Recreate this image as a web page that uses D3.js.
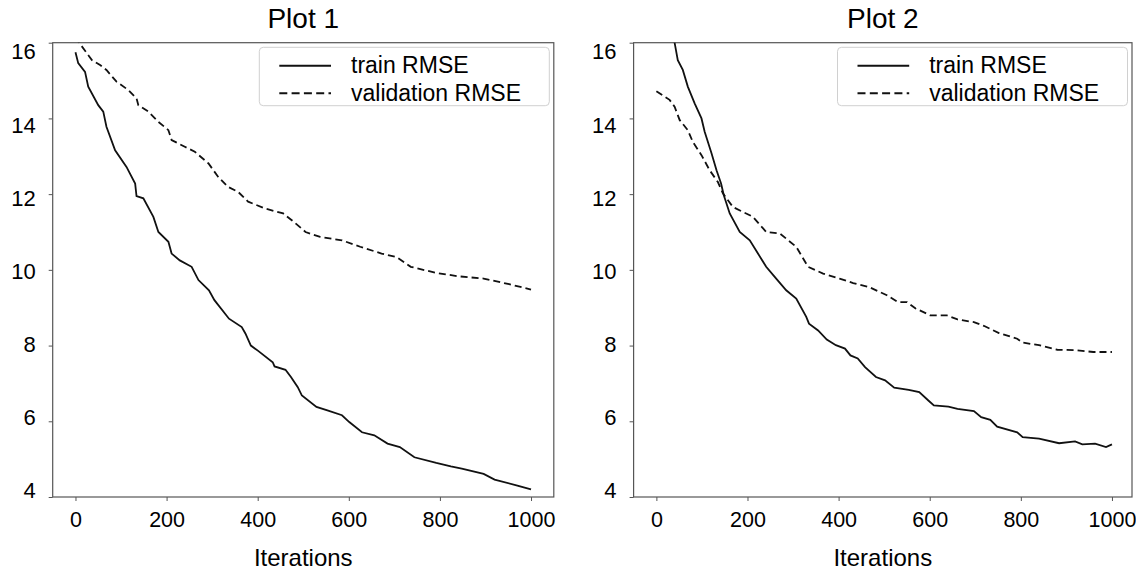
<!DOCTYPE html>
<html>
<head>
<meta charset="utf-8">
<script src="https://cdn.jsdelivr.net/npm/d3@7"></script>
<style>
  body { margin: 0; background: white; }
  svg { display: block; font-family: "Liberation Sans", Arial, sans-serif; }
</style>
</head>
<body>
<div id="chart"></div>
<script>
// values: [iteration, rmse]
var plot1_train = [[0,15.75],[6,15.46],[21,15.23],[28,14.84],[50,14.35],[61,14.18],[68,13.78],[87,13.16],
  [112,12.72],[131,12.28],[134,11.95],[149,11.89],[171,11.40],[182,11.00],[204,10.74],[211,10.43],
  [229,10.25],[255,10.08],[270,9.73],[293,9.46],[305,9.20],[337,8.71],[365,8.49],[373,8.32],[385,8.00],
  [401,7.86],[433,7.56],[437,7.45],[461,7.36],[473,7.17],[488,6.90],[497,6.68],[529,6.38],[553,6.29],
  [585,6.16],[601,5.98],[629,5.71],[656,5.63],[685,5.41],[712,5.32],[744,5.05],[792,4.90],[824,4.81],
  [848,4.75],[896,4.61],[920,4.46],[968,4.31],[1000,4.20]]

var plot1_valid = [[0,16.15],[10,15.97],[36,15.54],[54,15.41],[68,15.28],[90,14.97],[116,14.75],[134,14.53],
  [138,14.35],[160,14.18],[182,13.91],[204,13.69],[211,13.43],[240,13.25],[262,13.12],[292,12.81],
  [313,12.46],[335,12.19],[357,12.06],[379,11.80],[416,11.62],[456,11.49],[482,11.24],[505,11.00],
  [537,10.87],[585,10.78],[625,10.61],[672,10.43],[705,10.34],[736,10.08],[792,9.92],[840,9.83],
  [896,9.77],[952,9.62],[1000,9.48]]

var plot2_train = [[0,17.6],[20,16.8],[40,16.0],[47,15.54],[58,15.28],[69,14.84],[84,14.40],[99,14.00],
  [106,13.65],[121,13.08],[132,12.63],[142,12.28],[148,11.97],[161,11.49],[183,11.00],[205,10.78],
  [223,10.43],[241,10.08],[263,9.77],[285,9.46],[307,9.24],[329,8.76],[335,8.58],[355,8.40],[374,8.16],
  [394,8.01],[414,7.92],[426,7.74],[442,7.66],[458,7.43],[482,7.17],[502,7.08],[522,6.89],[554,6.83],
  [577,6.77],[597,6.55],[609,6.42],[641,6.39],[661,6.33],[697,6.27],[713,6.11],[733,6.04],[748,5.86],
  [792,5.71],[804,5.58],[840,5.54],[884,5.42],[919,5.47],[935,5.39],[963,5.41],[987,5.32],[1000,5.39]]

var plot2_valid = [[0,14.72],[29,14.49],[40,14.31],[51,13.96],[69,13.69],[80,13.38],[99,13.03],[117,12.63],
  [135,12.32],[146,12.02],[168,11.66],[197,11.49],[212,11.40],[241,11.00],[271,10.96],[307,10.61],
  [333,10.08],[366,9.90],[402,9.77],[432,9.65],[466,9.55],[506,9.33],[530,9.15],[550,9.15],[569,8.98],
  [601,8.80],[637,8.80],[661,8.69],[697,8.62],[721,8.51],[752,8.33],[792,8.18],[804,8.08],[840,8.01],
  [880,7.89],[919,7.88],[959,7.83],[1000,7.83]]

var titles = ["Plot 1", "Plot 2"]
var series_names = ["train RMSE", "validation RMSE"]
var x_ticks = [0, 200, 400, 600, 800, 1000]
var y_ticks = [4, 6, 8, 10, 12, 14, 16]
var x_label = "Iterations"

var WIDTH = 1136, HEIGHT = 572
var PANELS = [{left: 52.7, right: 553.8, xmax: 1050}, {left: 633.6, right: 1132, xmax: 1044}]
var TOP = 42.7, BOTTOM = 497
var AXIS_COLOR = "#555"
var LINE_COLOR = "#111"

var svg = d3.select("#chart").append("svg")
  .attr("width", WIDTH)
  .attr("height", HEIGHT)

function drawPanel(i, train, valid){
  var p = PANELS[i]
  var x = d3.scaleLinear().domain([-50, p.xmax]).range([p.left, p.right])
  var y = d3.scaleLinear().domain([4, 16]).range([BOTTOM, TOP])
  // tick labels sit slightly inside the tick span in the original
  var y_lab = d3.scaleLinear().domain([4, 16]).range([490, 51.5])

  var g = svg.append("g")

  svg.append("clipPath").attr("id", "clip" + i)
    .append("rect")
    .attr("x", p.left).attr("y", TOP)
    .attr("width", p.right - p.left).attr("height", BOTTOM - TOP)

  // x axis
  var gx = g.append("g")
    .attr("transform", `translate(0, ${BOTTOM})`)
    .call(d3.axisBottom(x).tickValues(x_ticks).tickFormat(d3.format("d"))
      .tickSize(4).tickSizeOuter(0))
  gx.select(".domain").remove()
  gx.selectAll("line").attr("stroke", AXIS_COLOR)
  gx.selectAll("text")
    .attr("y", 30).attr("dy", null)
    .style("font-size", "21.5px").attr("fill", "black")

  // y axis
  var gy = g.append("g")
    .attr("transform", `translate(${p.left}, 0)`)
    .call(d3.axisLeft(y).tickValues(y_ticks).tickSize(4).tickSizeOuter(0).tickFormat(""))
  gy.select(".domain").remove()
  gy.selectAll("line").attr("stroke", AXIS_COLOR)

  g.selectAll(".ylab")
    .data(y_ticks)
    .enter()
    .append("text")
    .attr("class", "ylab")
    .attr("x", p.left - 17)
    .attr("y", function(d){ return y_lab(d) })
    .attr("dy", "0.36em")
    .attr("text-anchor", "end")
    .style("font-size", "22px")
    .text(function(d){ return d })

  // frame
  g.append("rect")
    .attr("x", p.left).attr("y", TOP)
    .attr("width", p.right - p.left).attr("height", BOTTOM - TOP)
    .attr("fill", "none")
    .attr("stroke", AXIS_COLOR)
    .attr("stroke-width", 1.2)

  var line = d3.line()
    .x(function(d){ return x(d[0]) })
    .y(function(d){ return y(d[1]) })

  var lines = g.append("g").attr("clip-path", `url(#clip${i})`)

  lines.append("path")
    .datum(train)
    .attr("d", line)
    .attr("fill", "none")
    .attr("stroke", LINE_COLOR)
    .attr("stroke-width", 1.8)

  lines.append("path")
    .datum(valid)
    .attr("d", line)
    .attr("fill", "none")
    .attr("stroke", LINE_COLOR)
    .attr("stroke-width", 1.8)
    .attr("stroke-dasharray", "7,4")

  // title and x label
  var mid = (p.left + p.right) / 2
  g.append("text")
    .attr("x", mid).attr("y", 28)
    .attr("text-anchor", "middle")
    .style("font-size", "28px")
    .text(titles[i])

  g.append("text")
    .attr("x", mid).attr("y", 566)
    .attr("text-anchor", "middle")
    .style("font-size", "24px")
    .text(x_label)

  // legend
  var lx = p.right - 4.5 - 290
  var legend = g.append("g").attr("transform", `translate(${lx}, 47.3)`)
  legend.append("rect")
    .attr("width", 290).attr("height", 58.4)
    .attr("rx", 4)
    .attr("fill", "white")
    .attr("stroke", "#d0d0d0")

  legend.selectAll("line")
    .data(series_names)
    .enter()
    .append("line")
    .attr("x1", 20).attr("x2", 71.7)
    .attr("y1", function(d, k){ return 18.4 + k*27.6 })
    .attr("y2", function(d, k){ return 18.4 + k*27.6 })
    .attr("stroke", LINE_COLOR)
    .attr("stroke-width", 2)
    .attr("stroke-dasharray", function(d, k){ return k == 1 ? "8,4.3" : null })

  legend.selectAll("text")
    .data(series_names)
    .enter()
    .append("text")
    .attr("x", 91.7)
    .attr("y", function(d, k){ return 17 + k*28 })
    .attr("dy", "0.36em")
    .style("font-size", "23px")
    .text(function(d){ return d })
}

drawPanel(0, plot1_train, plot1_valid)
drawPanel(1, plot2_train, plot2_valid)
</script>
</body>
</html>
